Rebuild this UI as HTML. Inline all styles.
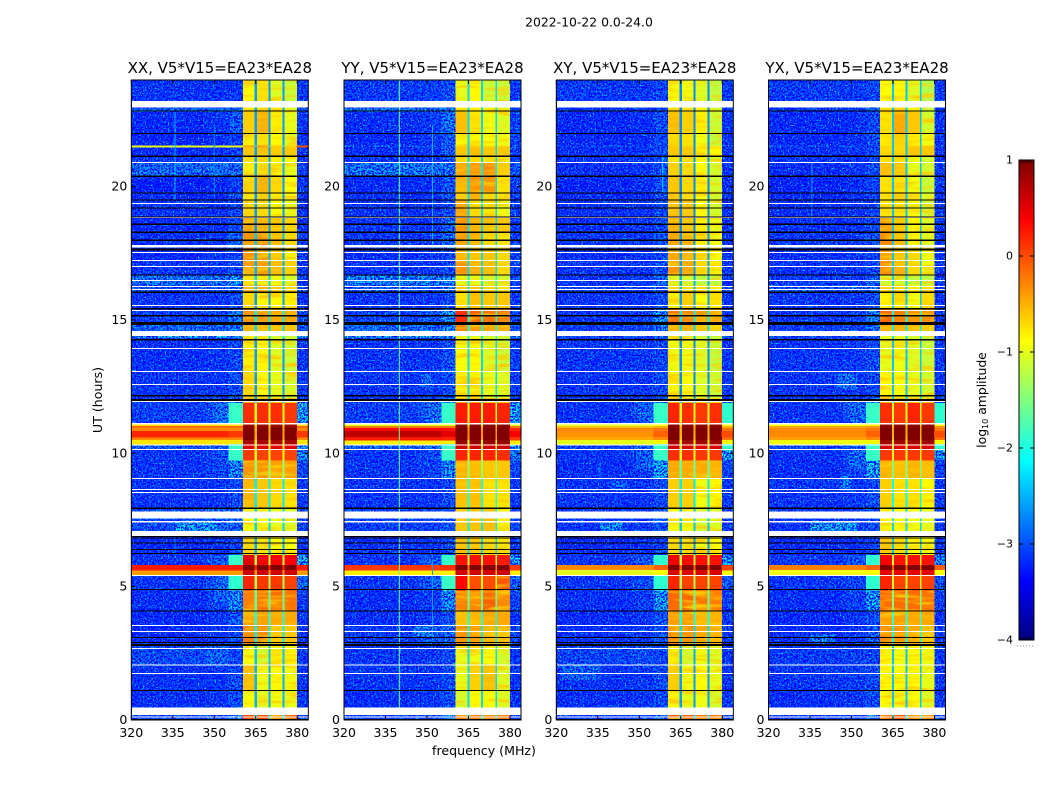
<!DOCTYPE html>
<html>
<head>
<meta charset="utf-8">
<title>2022-10-22 0.0-24.0</title>
<style>
html,body{margin:0;padding:0;background:#fff;width:1050px;height:800px;overflow:hidden}
svg{display:block}
text{font-family:"DejaVu Sans","Liberation Sans",sans-serif;fill:#000}
</style>
</head>
<body>
<svg id="figure" xmlns="http://www.w3.org/2000/svg" width="1050" height="800" viewBox="0 0 1050 800">
  <defs>
    <filter id="speckle-light" x="0" y="0" width="100%" height="100%" filterUnits="objectBoundingBox">
      <feTurbulence type="fractalNoise" baseFrequency="0.6" numOctaves="2" seed="4"/>
      <feColorMatrix type="matrix" values="0 0 0 0 0  0 0 0 0 0.68  0 0 0 0 1  4.6 0 0 0 -2.6"/>
    </filter>
    <filter id="speckle-dark" x="0" y="0" width="100%" height="100%" filterUnits="objectBoundingBox">
      <feTurbulence type="fractalNoise" baseFrequency="0.55" numOctaves="2" seed="11"/>
      <feColorMatrix type="matrix" values="0 0 0 0 0  0 0 0 0 0  0 0 0 0 0.95  4.2 0 0 0 -1.55"/>
    </filter>
    <filter id="band-mottle" x="0" y="0" width="100%" height="100%" filterUnits="objectBoundingBox">
      <feTurbulence type="fractalNoise" baseFrequency="0.035 0.22" numOctaves="2" seed="7"/>
      <feColorMatrix type="matrix" values="0 0 0 0 1  0 0 0 0 0.6  0 0 0 0 0  2.9 0 0 0 -1.3"/>
    </filter>
  </defs>
  <text x="589" y="26.5" font-size="12.4" text-anchor="middle">2022-10-22 0.0-24.0</text>
  <text x="484" y="755" font-size="12.6" text-anchor="middle">frequency (MHz)</text>
  <text x="102" y="400" font-size="12.6" text-anchor="middle" transform="rotate(-90 102 400)">UT (hours)</text>
  <text x="986" y="400" font-size="12.4" text-anchor="middle" transform="rotate(-90 986 400)">log<tspan font-size="8" dy="2">10</tspan><tspan dy="-2"> amplitude</tspan></text>
  <g id="panels"></g>
  <g id="colorbar"></g>
</svg>
<script>
const panelNames = ['XX', 'YY', 'XY', 'YX'];
const panelTitles = ['XX, V5*V15=EA23*EA28', 'YY, V5*V15=EA23*EA28', 'XY, V5*V15=EA23*EA28', 'YX, V5*V15=EA23*EA28'];
const freqTicks = [320, 335, 350, 365, 380];
const hourTicks = [0, 5, 10, 15, 20];
const colorTicks = [1, 0, -1, -2, -3, -4];
const freqLimits = [320, 384];
const hourLimits = [0, 24];
const colorLimits = [-4, 1];

/* frequency zones in MHz; zoneColumn says which matrix column colours each zone */
const zoneEdges = [320, 347, 355.2, 360.4, 364.6, 365.4, 369.6, 370.3, 374.7, 375.4, 379.8, 384];
const zoneColumn = [0, 1, 2, 3, 8, 4, 8, 5, 8, 6, 7];
const notchColumn = 8;
const bandLimits = [360.4, 379.8];

/* row boundaries in UT hours, from the top of the plot downward */
const hourEdges = [24, 22.95, 22.8, 22.01, 21.54, 21.49, 21.15, 20.89, 20.4, 19.8, 19.5, 18.86, 18.3, 17.7, 17.25, 16.69, 16.31, 16.05, 15.45, 14.89, 14.59, 14.32, 13.09, 12.08, 11.89, 11.14, 11.03, 10.95, 10.84, 10.61, 10.5, 10.35, 10.13, 9.75, 9.08, 7.95, 7.09, 6.19, 5.81, 5.63, 5.44, 4.88, 4.09, 3.56, 2.81, 2.06, 1.13, 0.45, 0];

/* log10 amplitude per row: [320-347, 347-355, 355-360, band1, band2, band3, band4, 380-384, notches] */
const amplitudeXX = [
[-3,-3,-3,-.85,-.75,-1.05,-1.15,-3,-2.6],
[-2.6,-2.6,-2.5,-.8,-.7,-.9,-1,-2.8,-2.5],
[-3.1,-3,-2.7,-.65,-.5,-.8,-1,-3,-2.6],
[-3.15,-3.05,-2.9,-.8,-.75,-.85,-1.05,-3,-2.6],
[-1,-1,-1,-.3,-.3,-.6,-.7,0,-2.2],
[-3.1,-3.05,-2.9,-.6,-.55,-.65,-.6,-3,-2.6],
[-3,-3,-2.8,-.75,-.7,-.8,-.9,-3,-2.5],
[-2.55,-2.5,-2.6,-.8,-.75,-.85,-1,-2.9,-2.5],
[-3.2,-3.1,-2.9,-.7,-.5,-.7,-.9,-3,-2.6],
[-3.1,-3.1,-2.8,-.75,-.65,-.8,-.9,-3,-2.6],
[-3,-3,-2.8,-.7,-.7,-.85,-1,-3,-2.6],
[-3.1,-3.05,-2.8,-.45,-.5,-.6,-.7,-3,-2.6],
[-3.05,-3,-2.6,-.35,-.35,-.55,-.7,-2.9,-2.4],
[-3.1,-3,-2.9,-.35,-.4,-.6,-.8,-3,-2.5],
[-3,-3,-2.8,-.4,-.4,-.55,-.65,-3,-2.5],
[-2.5,-2.45,-2.2,-.75,-.8,-.95,-1.05,-2.9,-2.3],
[-2.8,-2.8,-2.6,-.5,-.5,-.65,-.7,-2.9,-2.4],
[-3,-3,-2.8,-.7,-.85,-.85,-.8,-3,-2.6],
[-2.9,-2.8,-2.4,-.35,-.4,-.45,-.45,-2.8,-2.2],
[-2.6,-2.6,-2.4,-.5,-.55,-.6,-.6,-2.8,-2.3],
[-2.2,-2.2,-2.2,-.9,-.9,-1.1,-1.1,-2.4,-2],
[-3.05,-3,-2.85,-.8,-.85,-1.05,-1.15,-3,-2.6],
[-3,-3,-2.8,-.7,-.85,-1,-1.1,-3,-2.6],
[-3,-2.8,-2.4,-.4,-.4,-.5,-.6,-2.8,-2.4],
[-2.9,-2.75,-1.85,.15,.15,.15,.1,-2.1,-1],
[-.7,-.7,-.7,.8,.8,.8,.8,-.7,-.8],
[-.15,-.15,-.15,.95,.95,.95,.95,-.15,-.5],
[-.3,-.3,-.3,1,1,1,1,-.3,-.5],
[.2,.2,.1,1,1,1,1,.1,-.4],
[-.3,-.3,-.3,1,1,1,1,-.3,-.5],
[-.75,-.75,-.75,.8,.8,.8,.8,-.75,-.8],
[-2.7,-2.6,-1.85,.5,.5,.5,.5,-2.2,-.9],
[-3,-2.8,-1.85,.1,.05,.05,.05,-2.3,-.9],
[-3,-2.85,-2.3,-.35,-.35,-.4,-.4,-2.8,-1.4],
[-3,-3,-2.8,-.5,-.6,-.7,-.75,-2.95,-2.2],
[-2.8,-2.6,-2.6,-.9,-.9,-1,-1.05,-2.9,-2.3],
[-3.1,-3.05,-2.85,-.7,-.75,-.9,-.9,-3,-2.5],
[-3,-2.7,-1.85,.5,.4,.4,.4,-2,-1.2],
[.25,.25,.25,1,1,1,1,.25,.2],
[-.4,-.4,-.4,.6,.6,.6,.6,-.4,-.4],
[-3,-2.8,-1.9,.2,.1,.1,.05,-2.6,-1.3],
[-3.05,-2.9,-2.3,-.25,-.2,-.15,-.2,-2.9,-1.6],
[-3.1,-3,-2.7,-.4,-.4,-.45,-.45,-3,-2],
[-3.1,-3,-2.8,-.25,-.3,-.6,-.6,-3,-2.2],
[-2.8,-2.6,-2.85,-.9,-1.1,-.8,-.8,-3,-2.4],
[-3,-3,-2.8,-.55,-.95,-.85,-.95,-3,-2.5],
[-3.05,-3,-2.8,-.9,-1,-.95,-1,-3,-2.5],
[-2.9,-2.8,-2.4,0,0,-.1,-.1,-2.8,-2.2]
];
const amplitudeYY = [
[-2.95,-2.9,-2.8,-1,-.85,-1.15,-1.15,-2.95,-2.3],
[-2.5,-2.5,-2.4,-.8,-.8,-.9,-1,-2.9,-2.3],
[-3.05,-2.95,-2.5,-.55,-.75,-.95,-1.05,-2.9,-2.3],
[-3.1,-3,-2.7,-.85,-.85,-.9,-.95,-2.9,-2.3],
[-2.6,-2.7,-2.7,-.7,-.7,-.7,-.7,-2.9,-2.3],
[-3.05,-3,-2.7,-.6,-.55,-.6,-.6,-2.9,-2.3],
[-3,-3,-2.8,-.7,-.7,-.75,-.85,-2.9,-2.3],
[-2.45,-2.45,-2.5,-.45,-.4,-.3,-.65,-2.8,-2.2],
[-3.1,-3.05,-2.7,-.5,-.35,-.35,-.75,-2.9,-2.3],
[-3.05,-3.05,-2.7,-.65,-.5,-.7,-.75,-2.9,-2.3],
[-3,-3,-2.8,-.45,-.7,-.75,-.95,-2.9,-2.3],
[-3,-3,-2.6,-.35,-.5,-.55,-.6,-2.9,-2.3],
[-3,-2.95,-2.5,-.4,-.5,-.7,-.75,-2.9,-2.3],
[-3.05,-3,-2.8,-.5,-.6,-.6,-.7,-2.9,-2.3],
[-3,-3,-2.8,-.35,-.5,-.55,-.7,-2.9,-2.3],
[-2.35,-2.35,-2.2,-1,-1,-1.1,-1.1,-2.8,-2.1],
[-2.7,-2.7,-2.5,-.65,-.6,-.7,-.75,-2.9,-2.3],
[-3,-3,-2.8,-.75,-.55,-.6,-.6,-2.9,-2.3],
[-2.85,-2.7,-2.2,.15,-.1,-.2,-.25,-2.8,-2],
[-2.55,-2.5,-2.3,-.25,-.4,-.45,-.5,-2.8,-2.1],
[-2.2,-2.2,-2.1,-1,-1,-1.1,-1.1,-2.4,-2],
[-3,-3,-2.75,-.9,-.85,-1.05,-1.15,-2.95,-2.3],
[-3,-3,-2.75,-.8,-.8,-1,-1.05,-2.95,-2.3],
[-3,-2.8,-2.4,-.4,-.4,-.5,-.6,-2.8,-2.2],
[-2.9,-2.7,-1.85,.25,.25,.25,.2,-2.1,-1],
[-1,-1,-1,.9,.9,.9,.9,-1,-.9],
[-.2,-.2,-.2,1,1,1,1,-.2,-.5],
[.35,.35,.3,1,1,1,1,.2,-.4],
[.7,.7,.5,1,1,1,1,.4,-.3],
[.25,.25,.2,1,1,1,1,.1,-.4],
[-.8,-.8,-.8,.9,.9,.9,.9,-.8,-.9],
[-2.6,-2.5,-1.85,.6,.6,.6,.6,-2.2,-.9],
[-3,-2.8,-1.85,.2,.2,.2,.15,-2.4,-.9],
[-3,-2.9,-2.3,-.5,-.55,-.6,-.6,-2.8,-1.4],
[-3,-3,-2.8,-.55,-.55,-.75,-.75,-2.95,-2],
[-2.9,-2.9,-2.7,-.6,-.55,-.55,-.8,-2.9,-2.2],
[-3.05,-3,-2.8,-.55,-.6,-.7,-.75,-3,-2.3],
[-3,-2.7,-1.85,.3,.3,.3,.25,-2.1,-1.2],
[.1,.1,.15,1,1,1,1,.1,-.2],
[-.8,-.8,-.8,.6,.6,.6,.6,-.8,-.6],
[-3,-2.75,-1.85,.35,0,0,-.05,-2.6,-1],
[-3.05,-2.95,-2.3,-.25,-.3,-.1,-.3,-2.9,-1.6],
[-3.05,-3,-2.75,-.55,-.5,-.45,-.45,-3,-2],
[-2.95,-2.7,-2.6,-.35,-.4,-.5,-.55,-2.9,-2.2],
[-3,-2.95,-2.8,-1,-.95,-.9,-1.1,-3,-2.3],
[-3,-3,-2.8,-1,-.65,-.55,-1.05,-3,-2.3],
[-3.05,-3,-2.8,-1.1,-.85,-.9,-1.05,-3,-2.3],
[-2.9,-2.8,-2.4,-.1,-.1,-.2,-.2,-2.8,-2.2]
];
const amplitudeXY = [
[-2.95,-2.95,-2.85,-.9,-.95,-1.05,-1.2,-2.95,-2.7],
[-3,-3,-2.9,-.7,-.75,-.85,-1.1,-3,-2.7],
[-3.1,-3.05,-2.8,-.55,-.65,-.8,-1.15,-3,-2.7],
[-3.1,-3.05,-2.8,-.7,-.75,-.95,-1.2,-3,-2.7],
[-2.7,-2.8,-2.85,-.65,-.7,-.9,-1,-3,-2.7],
[-3.05,-3,-2.8,-.6,-.6,-.8,-.85,-3,-2.7],
[-3,-3,-2.8,-.75,-.75,-.9,-1.1,-3,-2.6],
[-3.05,-3,-2.75,-.65,-.7,-.9,-1.1,-3,-2.6],
[-3.15,-3.05,-2.8,-.6,-.7,-.85,-1.1,-3,-2.7],
[-3.1,-3.05,-2.8,-.6,-.75,-.9,-1.1,-3,-2.7],
[-3.05,-3,-2.8,-.55,-.6,-.85,-1.1,-3,-2.7],
[-3.05,-3,-2.8,-.5,-.6,-.8,-1,-3,-2.7],
[-3,-3,-2.7,-.45,-.5,-.8,-.95,-3,-2.6],
[-3.05,-3,-2.8,-.45,-.5,-.75,-.85,-3,-2.6],
[-3,-3,-2.8,-.35,-.45,-.7,-.8,-3,-2.6],
[-3,-2.95,-2.6,-1.05,-1.1,-1.2,-1.2,-3,-2.5],
[-2.9,-2.9,-2.7,-.7,-.75,-.85,-.85,-3,-2.5],
[-3,-3,-2.8,-.8,-.65,-.9,-.75,-3,-2.6],
[-3,-2.9,-2.3,-.2,-.3,-.4,-.45,-2.9,-2.2],
[-2.95,-2.85,-2.5,-.5,-.5,-.6,-.7,-2.9,-2.3],
[-2.8,-2.8,-2.7,-1,-1,-1.1,-1.15,-2.8,-2.4],
[-3,-3,-2.85,-.95,-.95,-1.05,-1.2,-3,-2.7],
[-3,-3,-2.8,-.85,-.9,-1.05,-1.15,-3,-2.7],
[-3,-2.85,-2.5,-.5,-.5,-.6,-.7,-2.85,-2.4],
[-3,-2.8,-1.85,.2,.15,.1,.15,-1.9,-1],
[-1,-1,-.9,.85,.85,.85,.85,-.9,-.8],
[-.6,-.6,-.5,1,1,1,1,-.5,-.5],
[-.3,-.3,-.2,1,1,1,1,-.2,-.5],
[-.35,-.35,-.1,1,1,1,1,0,-.5],
[-.45,-.45,-.3,1,1,1,1,-.2,-.6],
[-1,-1,-.85,.85,.85,.85,.85,-.85,-.8],
[-2.9,-2.7,-1.85,.6,.55,.5,.55,-1.9,-1],
[-3,-2.85,-1.85,.15,.15,.1,.1,-2.1,-1],
[-3.05,-2.95,-2.1,-.45,-.45,-.45,-.5,-2.85,-1.6],
[-3,-3,-2.8,-.65,-.65,-.95,-.85,-2.95,-2.2],
[-3,-2.95,-2.75,-.9,-.9,-1.1,-1.05,-2.95,-2.4],
[-3.1,-3.05,-2.9,-.7,-.75,-.95,-.9,-3,-2.6],
[-3,-2.75,-1.9,.45,.35,.3,.3,-2.2,-1.2],
[-.3,-.3,-.1,1,1,1,1,.05,-.1],
[-1,-1,-.9,.55,.55,.55,.55,-.9,-.7],
[-3,-2.85,-1.9,.2,.05,.05,.05,-2.7,-1.3],
[-3.05,-2.95,-2.2,-.15,-.15,-.2,-.25,-2.9,-1.6],
[-3.1,-3,-2.75,-.4,-.4,-.5,-.5,-3,-2],
[-3.05,-2.95,-2.7,-.3,-.35,-.45,-.5,-2.95,-2.3],
[-2.85,-2.75,-2.85,-.8,-1.1,-.95,-1.05,-3,-2.5],
[-3,-2.95,-2.8,-.65,-.95,-.85,-1,-3,-2.6],
[-3.05,-3,-2.8,-.85,-1,-.95,-1.1,-3,-2.6],
[-2.95,-2.85,-2.5,-.1,-.1,-.2,-.2,-2.8,-2.3]
];
const amplitudeYX = [
[-2.95,-2.95,-2.85,-.9,-.85,-1.05,-1.25,-2.95,-2.4],
[-3,-3,-2.7,-.7,-.65,-.85,-1.15,-2.95,-2.4],
[-3.1,-3.05,-2.8,-.75,-.45,-.6,-1.1,-3,-2.4],
[-3.1,-3.05,-2.8,-.8,-.7,-.8,-.95,-3,-2.4],
[-2.7,-2.8,-2.85,-.7,-.7,-.7,-.6,-2.9,-2.4],
[-3.05,-3,-2.85,-.7,-.7,-.6,-.6,-3,-2.4],
[-3,-3,-2.8,-.75,-.75,-.95,-1.1,-3,-2.4],
[-3.05,-3,-2.8,-.55,-.6,-1,-1.1,-3,-2.4],
[-3.15,-3.05,-2.85,-.75,-.75,-.95,-1.15,-3,-2.4],
[-3.1,-3.05,-2.85,-.75,-.65,-.75,-1.05,-3,-2.4],
[-3.05,-3,-2.85,-.75,-.75,-.85,-1.15,-3,-2.4],
[-3.05,-3,-2.85,-.4,-.6,-.85,-1.05,-3,-2.4],
[-3,-3,-2.7,-.3,-.55,-.85,-1.05,-3,-2.4],
[-3.05,-3,-2.85,-.4,-.6,-.7,-.95,-3,-2.4],
[-3,-3,-2.8,-.3,-.5,-.7,-.95,-3,-2.4],
[-2.95,-2.95,-2.6,-1.1,-1.1,-1.2,-1.2,-2.95,-2.3],
[-2.75,-2.6,-2.65,-.7,-.75,-.85,-.75,-2.95,-2.3],
[-3,-3,-2.8,-.85,-.75,-.95,-.7,-3,-2.4],
[-3,-2.9,-2.35,-.15,-.25,-.35,-.35,-2.95,-2.1],
[-2.95,-2.85,-2.5,-.5,-.5,-.55,-.65,-2.95,-2.2],
[-2.75,-2.75,-2.65,-1,-1,-1.1,-1.15,-2.85,-2.2],
[-3,-2.95,-2.8,-1,-.95,-1.05,-1.15,-3,-2.4],
[-3,-3,-2.8,-.85,-.9,-1,-1.1,-3,-2.4],
[-3,-2.85,-2.5,-.5,-.5,-.55,-.6,-2.9,-2.2],
[-3,-2.8,-1.85,.15,.1,.2,.1,-1.9,-1],
[-.9,-.9,-.8,.85,.85,.85,.85,-.85,-.8],
[-.45,-.45,-.4,1,1,1,1,-.35,-.5],
[-.3,-.3,-.2,1,1,1,1,-.2,-.5],
[-.3,-.3,-.1,1,1,1,1,0,-.5],
[-.4,-.4,-.3,1,1,1,1,-.2,-.6],
[-.95,-.95,-.85,.85,.85,.85,.85,-.85,-.8],
[-2.9,-2.7,-1.85,.55,.5,.55,.5,-1.9,-1],
[-3,-2.85,-1.85,.1,.1,.1,.1,-2.1,-1],
[-3.05,-2.95,-2.05,-.5,-.55,-.5,-.55,-2.9,-1.5],
[-3,-2.95,-2.75,-.65,-.75,-.75,-.85,-2.95,-2.1],
[-3,-2.95,-2.75,-.85,-.9,-.95,-1,-2.95,-2.3],
[-3.1,-3.05,-2.85,-.6,-.7,-.85,-.9,-3,-2.4],
[-3,-2.75,-1.9,.4,.3,.3,.3,-2.3,-1],
[-.25,-.25,-.1,1,1,1,1,-.1,-.1],
[-.95,-.95,-.9,.5,.5,.5,.5,-.9,-.6],
[-3,-2.85,-1.9,.2,.05,.05,.05,-2.7,-1.1],
[-3.05,-2.9,-2.2,-.15,-.15,-.15,-.2,-2.9,-1.5],
[-3.1,-3,-2.75,-.4,-.4,-.45,-.45,-3,-1.9],
[-3.05,-3,-2.7,-.3,-.35,-.45,-.55,-3,-2.1],
[-2.95,-2.9,-2.85,-.85,-.95,-.85,-.95,-3,-2.4],
[-3,-2.95,-2.8,-.85,-.9,-.85,-1,-3,-2.4],
[-3.05,-3,-2.8,-.9,-.95,-.9,-1.05,-3,-2.4],
[-2.95,-2.85,-2.5,-.15,-.1,-.25,-.25,-2.85,-2.2]
];
const amplitudeByPanel = [amplitudeXX, amplitudeYY, amplitudeXY, amplitudeYX];

/* unflagged gaps (white) and fully flagged integrations (black), [start, end] in UT hours */
const whiteGaps = [[23.21,22.96],[20.93,20.89],[19.39,19.35],[18.86,18.82],[17.81,17.72],[17.55,17.51],[17.25,17.21],[17.03,16.99],[16.5,16.46],[16.28,16.23],[16.16,16.13],[15.56,15.53],[15.38,15.34],[14.59,14.4],[13.95,13.91],[13.09,13.05],[12.6,12.56],[11.96,11.93],[11.13,11.09],[10.33,10.29],[10.16,10.13],[9.08,9.04],[8.66,8.63],[8.55,8.51],[7.81,7.56],[7.47,7.4],[7.09,6.9],[5.44,5.4],[3.56,3.53],[3.34,3.3],[2.7,2.66],[2.09,2.05],[1.76,1.73],[.46,.19],[.13,.09]];
const blackFlags = [[22.85,22.81],[22.02,21.98],[21.16,21.12],[20.41,20.37],[19.79,19.75],[19.52,19.48],[19.22,19.18],[18.89,18.85],[18.61,18.57],[18.31,18.27],[18.01,17.97],[17.68,17.61],[16.71,16.67],[16.06,16.02],[15.45,15.4],[15.18,15.14],[14.93,14.81],[14.28,14.24],[12.18,12.14],[12.04,11.97],[7.96,7.92],[6.9,6.86],[6.85,6.81],[6.65,6.61],[6.42,6.38],[6.27,6.23],[4.92,4.88],[4.1,4.06],[3.12,3.08],[2.93,2.89],[2.85,2.78],[1.13,1.09],[.04,0]];

/* narrow-band interference: [frequency MHz, start hour, end hour, log10 amplitude] */
const rfiXX = [[335.8,19.5,22.8,-2.45],[350,19.6,22.3,-2.7],[335.8,6.2,7.1,-2.6]];
const rfiYY = [[340,.2,24,-1.6],[352,17.7,22.3,-2.5],[352,3,6,-2.6]];
const rfiXY = [[335.8,9,9.7,-2.7],[358.5,19.8,21.2,-2.3]];
const rfiYX = [[335.7,18.6,20.9,-2.6],[335.7,15.1,15.6,-2.6]];
const rfiByPanel = [rfiXX, rfiYY, rfiXY, rfiYX];

/* broad faint patches: [start MHz, end MHz, start hour, end hour, log10 amplitude] */
const patchesXX = [[336,351,7.4,7.09,-2.15],[350,355.2,11.89,11.14,-2.5],[355.2,360.4,9.75,9.4,-2.3],[350,355.2,5.44,4.4,-2.6]];
const patchesYY = [[350,355.2,11.89,11.14,-2.5],[345,352,3.55,3.1,-2.4],[348,352,13,12.4,-2.6],[352,357,5.44,5,-2.5]];
const patchesXY = [[336,344,7.4,7.09,-2.3],[340,346,8.95,8.6,-2.6],[322,336,2.06,1.5,-2.6],[349,355.2,11.89,9.4,-2.6]];
const patchesYX = [[335,352,7.4,7.09,-2.2],[345,352,13,12.4,-2.5],[346,350,9.2,8.6,-2.4],[335,344,3.2,2.9,-2.4],[349,355.2,11.89,9.4,-2.55]];
const patchesByPanel = [patchesXX, patchesYY, patchesXY, patchesYX];

const panelLefts = [131.3, 344, 556.3, 768.5];
const panelWidth = 177, plotTop = 80, plotBottom = 720;
const cbLeft = 1019, cbRight = 1034, cbTop = 160, cbBottom = 640;
const NS = 'http://www.w3.org/2000/svg';

function mk(tag, props, parent) {
  const el = document.createElementNS(NS, tag);
  for (const k in props) el.setAttribute(k, props[k]);
  parent.appendChild(el);
  return el;
}
function jet(v) {
  const t = Math.max(0, Math.min(1, (v - colorLimits[0]) / (colorLimits[1] - colorLimits[0])));
  const c = (x) => Math.round(255 * Math.max(0, Math.min(1, x)));
  return 'rgb(' + c(Math.min(4 * t - 1.5, -4 * t + 4.5)) + ',' + c(Math.min(4 * t - 0.5, -4 * t + 3.5)) + ',' + c(Math.min(4 * t + 0.5, -4 * t + 2.5)) + ')';
}
function yOf(hour) {
  return plotBottom - (hour - hourLimits[0]) / (hourLimits[1] - hourLimits[0]) * (plotBottom - plotTop);
}
function xOf(left, mhz) {
  return left + (mhz - freqLimits[0]) / (freqLimits[1] - freqLimits[0]) * panelWidth;
}

const panelsRoot = document.getElementById('panels');
panelNames.forEach(function (name, p) {
  const left = panelLefts[p];
  const g = mk('g', {}, panelsRoot);
  
  
  const under = mk('g', { 'shape-rendering': 'crispEdges' }, g);
  
  
  const texture = mk('g', {}, g);
  
  
  const over = mk('g', { 'shape-rendering': 'crispEdges' }, g);
  
  
  const mottle = mk('g', {}, g);
  
  
  const hottest = mk('g', { 'shape-rendering': 'crispEdges' }, g);
  
  
  const notches = mk('g', { 'shape-rendering': 'crispEdges' }, g);
  
  

  amplitudeByPanel[p].forEach(function (row, r) {
    const y0 = yOf(hourEdges[r]), y1 = yOf(hourEdges[r + 1]);
    zoneColumn.forEach(function (col, z) {
      const x0 = xOf(left, zoneEdges[z]), x1 = xOf(left, zoneEdges[z + 1]);
      const v = row[col];
      const layer = col === notchColumn ? notches : (v < -1.95 ? under : (v < 0 ? over : hottest));
      const pad = col === notchColumn ? 0 : 0.4;
      const cell = mk('rect', { x: x0, y: y0, width: x1 - x0 + pad, height: y1 - y0 + 0.4, fill: jet(v) }, layer);
      
      
    });
  });
  patchesByPanel[p].forEach(function (patch) {
    const px0 = xOf(left, patch[0]), px1 = xOf(left, patch[1]);
    const patchRect = mk('rect', { x: px0, y: yOf(patch[2]), width: px1 - px0, height: yOf(patch[3]) - yOf(patch[2]), fill: jet(patch[4]) }, under);
    
    
  });
  [[320, bandLimits[0]], [bandLimits[1], 384]].forEach(function (span) {
    ['speckle-dark', 'speckle-light'].forEach(function (filterId) {
      const tx0 = xOf(left, span[0]), tx1 = xOf(left, span[1]);
      const noise = mk('rect', { x: tx0, y: plotTop, width: tx1 - tx0, height: plotBottom - plotTop, filter: 'url(#' + filterId + ')' }, texture);
      
      
    });
  });
  const mx0 = xOf(left, bandLimits[0]), mx1 = xOf(left, bandLimits[1]);
  const mottleRect = mk('rect', { x: mx0, y: plotTop, width: mx1 - mx0, height: plotBottom - plotTop, filter: 'url(#band-mottle)' }, mottle);
  
  
  rfiByPanel[p].forEach(function (line) {
    const lx = xOf(left, line[0]);
    const rfi = mk('line', { x1: lx, x2: lx, y1: yOf(line[2]), y2: yOf(line[1]), stroke: jet(line[3]), 'stroke-width': 1 }, g);
    
    
  });
  const flagLayer = mk('g', { 'shape-rendering': 'crispEdges' }, g);
  
  
  whiteGaps.forEach(function (gap) {
    const gapRect = mk('rect', { x: left + 0.5, y: yOf(gap[0]), width: panelWidth - 1, height: yOf(gap[1]) - yOf(gap[0]), fill: '#fff' }, flagLayer);
    
    
  });
  blackFlags.forEach(function (flag) {
    const flagRect = mk('rect', { x: left, y: yOf(flag[0]), width: panelWidth, height: yOf(flag[1]) - yOf(flag[0]), fill: '#000' }, flagLayer);
    
    
  });

  const frame = mk('rect', { x: left, y: plotTop, width: panelWidth, height: plotBottom - plotTop, fill: 'none', stroke: '#000', 'stroke-width': 1 }, g);
  
  

  freqTicks.forEach(function (f) {
    const x = xOf(left, f);
    [[plotBottom, plotBottom - 4], [plotTop, plotTop + 4]].forEach(function (s) {
      const tick = mk('line', { x1: x, x2: x, y1: s[0], y2: s[1], stroke: '#000', 'stroke-width': 1 }, g);
      
      
    });
    const label = mk('text', { x: x, y: 737, 'font-size': 12.5, 'text-anchor': 'middle' }, g);
    
    
    label.textContent = String(f);
  });
  hourTicks.forEach(function (h) {
    const y = yOf(h);
    [[left, left + 4], [left + panelWidth, left + panelWidth - 4]].forEach(function (s) {
      const tick = mk('line', { x1: s[0], x2: s[1], y1: y, y2: y, stroke: '#000', 'stroke-width': 1 }, g);
      
      
    });
    const label = mk('text', { x: left - 4, y: y + 4, 'font-size': 12.5, 'text-anchor': 'end' }, g);
    
    
    label.textContent = String(h);
  });
  const title = mk('text', { x: left + panelWidth / 2, y: 73, 'font-size': 15, 'text-anchor': 'middle' }, g);
  
  
  title.textContent = panelTitles[p];
});

const cb = document.getElementById('colorbar');
const cbLevels = 256;
const cbColors = mk('g', { 'shape-rendering': 'crispEdges' }, cb);


function cbY(v) {
  return cbBottom - (v - colorLimits[0]) / (colorLimits[1] - colorLimits[0]) * (cbBottom - cbTop);
}
for (let i = 0; i < cbLevels; i++) {
  const v = colorLimits[0] + (i + 0.5) / cbLevels * (colorLimits[1] - colorLimits[0]);
  const stepH = (cbBottom - cbTop) / cbLevels;
  const swatch = mk('rect', { x: cbLeft, y: cbY(v) - stepH / 2, width: cbRight - cbLeft, height: stepH + 0.5, fill: jet(v) }, cbColors);
  
  
}
const cbFrame = mk('rect', { x: cbLeft, y: cbTop, width: cbRight - cbLeft, height: cbBottom - cbTop, fill: 'none', stroke: '#000', 'stroke-width': 1 }, cb);


colorTicks.forEach(function (v) {
  const y = cbY(v);
  [[cbLeft, cbLeft + 4], [cbRight, cbRight - 4]].forEach(function (s) {
    const tick = mk('line', { x1: s[0], x2: s[1], y1: y, y2: y, stroke: '#000', 'stroke-width': 1 }, cb);
    
    
  });
  const label = mk('text', { x: 1013, y: y + 3.5, 'font-size': 11, 'text-anchor': 'end' }, cb);
  
  
  label.textContent = String(v).replace('-', '\u2212');
});
[[cbTop, cbTop + 3], [cbBottom, cbBottom - 3]].forEach(function (s) {
  for (let x = cbLeft + 2; x < cbRight - 1; x += 2) {
    const edgeTick = mk('line', { x1: x, x2: x, y1: s[0], y2: s[1], stroke: '#000', 'stroke-width': 0.7 }, cb);
    
    
  }
});
const dots = mk('line', { x1: 1017, x2: 1035, y1: 646, y2: 646, stroke: '#888', 'stroke-width': 1, 'stroke-dasharray': '1 2' }, cb);


</script>
</body>
</html>
